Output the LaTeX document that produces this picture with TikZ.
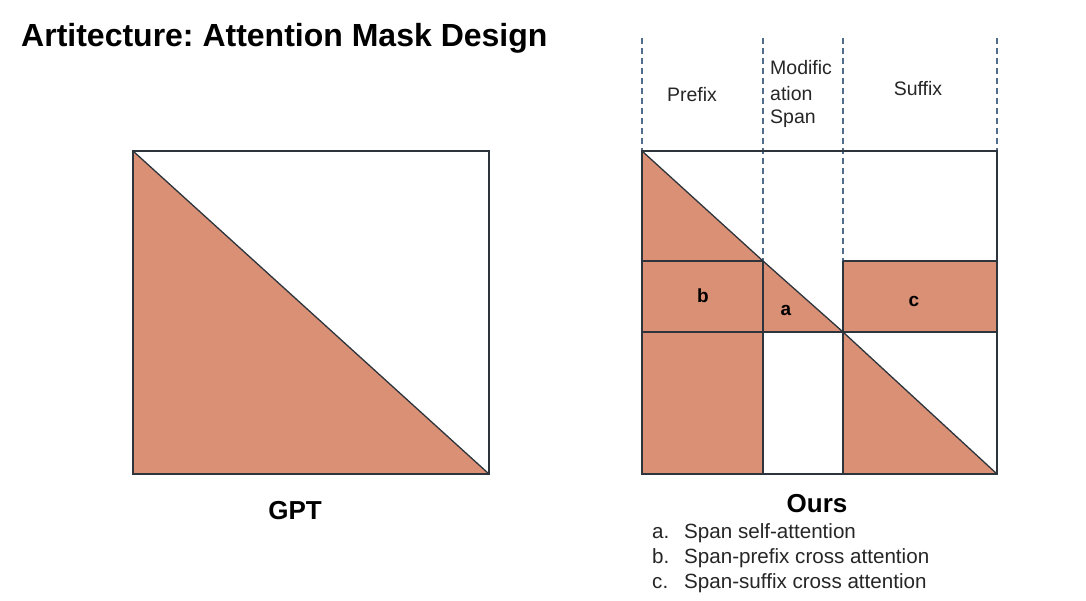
\documentclass[tikz,border=0pt]{standalone}
\usepackage{fontspec}
\setmainfont{Liberation Sans}
\frenchspacing
\definecolor{maskfill}{RGB}{218,144,117}
\definecolor{edge}{RGB}{45,52,60}
\definecolor{dashc}{RGB}{80,110,140}
\begin{document}
\begin{tikzpicture}[x=1pt,y=-1pt,
  region/.style={fill=maskfill},
  frame/.style={draw=edge,line width=1.3pt,line join=miter},
  guide/.style={draw=dashc,line width=1.1pt,dash pattern=on 6pt off 4pt},
  lbl/.style={font=\fontsize{19.5}{22}\selectfont,text=black!85,inner sep=0pt},
  cell/.style={font=\bfseries\fontsize{19}{22}\selectfont,inner sep=0pt},
  caption/.style={font=\bfseries\fontsize{26}{30}\selectfont,inner sep=0pt},
  item/.style={font=\fontsize{20.6}{24}\selectfont,text=black!85,inner sep=0pt,anchor=base west}]
\useasboundingbox[fill=white] (0,0) rectangle (1086,600);
% title
\node[font=\bfseries\fontsize{32}{36}\selectfont,anchor=west,inner sep=0pt] (title) at (21,38) {Artitecture: Attention Mask Design};
% GPT
\fill[region] (133,151) -- (133,474) -- (489,474) -- cycle;
\draw[frame] (133,151) rectangle (489,474);
\draw[frame] (133,151) -- (489,474);
\node[caption] (gpt) at (295,511) {GPT};
% Ours fills
\fill[region] (642,151) -- (642,261) -- (763,261) -- cycle;
\fill[region] (642,261) rectangle (763,474);
\fill[region] (763,261) -- (763,332) -- (843,332) -- cycle;
\fill[region] (843,261) rectangle (997,332);
\fill[region] (843,332) -- (843,474) -- (997,474) -- cycle;
% guides
\draw[guide] (642,38) -- (642,261);
\draw[guide] (763,38) -- (763,261);
\draw[guide] (843,38) -- (843,261);
\draw[guide] (997,38) -- (997,151);
% Ours frame
\draw[frame] (642,151) rectangle (997,474);
\draw[frame] (642,261) -- (763,261);
\draw[frame] (843,261) -- (997,261);
\draw[frame] (642,332) -- (997,332);
\draw[frame] (763,261) -- (763,474);
\draw[frame] (843,261) -- (843,474);
\draw[frame] (642,151) -- (763,261) -- (843,332) -- (997,474);
% column labels
\node[lbl] (prefix) at (692,95) {Prefix};
\node[lbl,anchor=west] (mod1) at (770,68) {Modific};
\node[lbl,anchor=west] (mod2) at (770,94) {ation};
\node[lbl,anchor=west] (mod3) at (770,119) {Span};
\node[lbl] (suffix) at (918,89) {Suffix};
% cell labels
\node[cell] (cb) at (703,296) {b};
\node[cell] (ca) at (786,310) {a};
\node[cell] (cc) at (914,301) {c};
% caption and legend
\node[caption] (ours) at (817,504) {Ours};
\node[item] (la) at (652,538) {a.};
\node[item] (ta) at (684,538) {Span self-attention};
\node[item] (lb) at (652,563) {b.};
\node[item] (tb) at (684,563) {Span-prefix cross attention};
\node[item] (lc) at (652,588) {c.};
\node[item] (tc) at (684,588) {Span-suffix cross attention};
\end{tikzpicture}
\end{document}
